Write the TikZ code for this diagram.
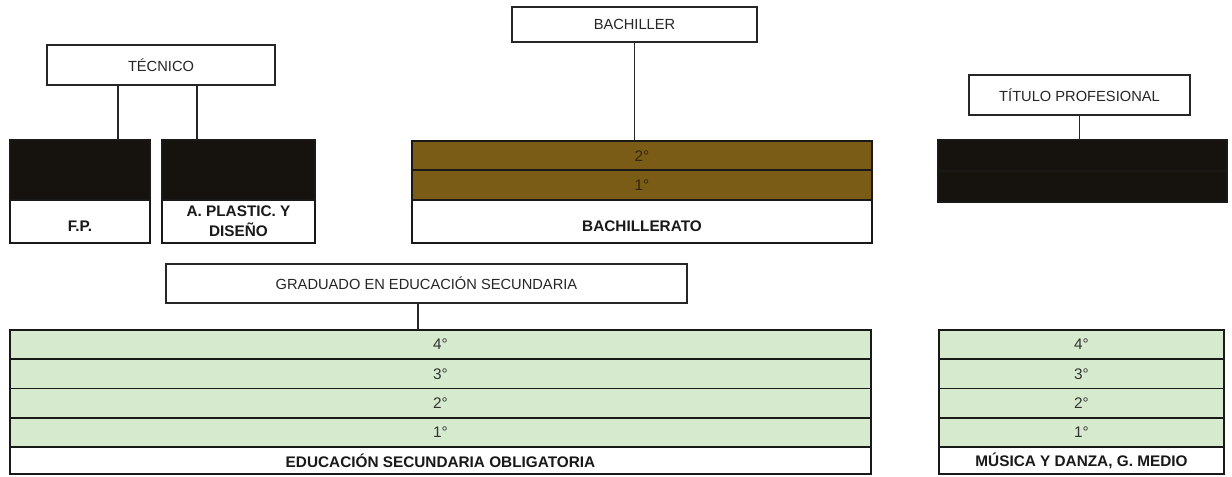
\documentclass[tikz,border=0pt]{standalone}
\usepackage{fontspec}
\setmainfont{Liberation Sans}
\usetikzlibrary{positioning}
\definecolor{esogreen}{RGB}{214,235,206}
\definecolor{bachbrown}{RGB}{122,92,22}
\definecolor{bachtext}{RGB}{52,38,10}
\definecolor{boxblack}{RGB}{22,19,14}

\begin{document}
\begin{tikzpicture}[x=.75pt,y=-.75pt,
    title/.style={draw=black!85, line width=.9pt, fill=white, inner sep=0pt,
      font=\fontsize{11}{13}\selectfont, text=black!85},
    band/.style={draw=black!90, line width=1.4pt, inner sep=0pt, outer sep=0pt,
      font=\fontsize{11.5}{13}\selectfont},
    greenband/.style={band, fill=esogreen, text=black!80, minimum height=21.94pt},
    brownband/.style={band, fill=bachbrown, text=bachtext, minimum height=22pt},
    darkband/.style={band, fill=boxblack},
    foot/.style={band, fill=white, align=center,
      font=\bfseries\fontsize{11.5}{15}\selectfont, text=black!90},
    conn/.style={draw=black!85, line width=1pt}]
  \useasboundingbox (0,0) rectangle (1232,476);

  % titulos
  \node (tec) at (161,65) [title, minimum width=171pt, minimum height=30pt] {TÉCNICO};
  \node (bachiller) at (634.5,24.5) [title, minimum width=183.75pt, minimum height=26.25pt] {BACHILLER};
  \node (titulo) at (1079.5,95) [title, minimum width=165.75pt, minimum height=30pt] {TÍTULO PROFESIONAL};
  \node (grad) at (426.5,283.5) [title, minimum width=390.75pt, minimum height=29.25pt] {GRADUADO EN EDUCACIÓN SECUNDARIA};

  % F.P. y artes plasticas
  \node (fpTop) at (10,140) [anchor=north west, darkband, minimum width=105pt, minimum height=45pt] {};
  \node (fpFoot) [below=0pt of fpTop, foot, minimum width=105pt, minimum height=32.25pt] {\mbox{}\\F.P.};
  \node (plTop) at (162,140) [anchor=north west, darkband, minimum width=114.75pt, minimum height=45pt] {};
  \node (plFoot) [below=0pt of plTop, foot, minimum width=114.75pt, minimum height=32.25pt] {A. PLASTIC. Y\\DISEÑO};

  % bachillerato
  \node (bach2) at (412,141) [anchor=north west, brownband, minimum width=345pt] {2°};
  \node (bach1) [below=0pt of bach2, brownband, minimum width=345pt] {1°};
  \node (bachFoot) [below=0pt of bach1, foot, minimum width=345pt, minimum height=32.5pt] {\mbox{}\\BACHILLERATO};

  % titulo profesional
  \node (tp2) at (938,140) [anchor=north west, darkband, minimum width=216.75pt, minimum height=23.25pt] {};
  \node (tp1) [below=0pt of tp2, darkband, minimum width=216.75pt, minimum height=23.25pt] {};

  % ESO
  \node (eso4) at (10,330) [anchor=north west, greenband, minimum width=645.75pt] {4°};
  \node (eso3) [below=0pt of eso4, greenband, minimum width=645.75pt] {3°};
  \node (eso2) [below=0pt of eso3, greenband, minimum width=645.75pt] {2°};
  \node (eso1) [below=0pt of eso2, greenband, minimum width=645.75pt] {1°};
  \node (esoFoot) [below=0pt of eso1, foot, minimum width=645.75pt, minimum height=20.25pt] {EDUCACIÓN SECUNDARIA OBLIGATORIA};

  % musica y danza
  \node (mus4) at (939,330) [anchor=north west, greenband, minimum width=213.75pt] {4°};
  \node (mus3) [below=0pt of mus4, greenband, minimum width=213.75pt] {3°};
  \node (mus2) [below=0pt of mus3, greenband, minimum width=213.75pt] {2°};
  \node (mus1) [below=0pt of mus2, greenband, minimum width=213.75pt] {1°};
  \node (musFoot) [below=0pt of mus1, foot, minimum width=213.75pt, minimum height=20.25pt] {MÚSICA Y DANZA, G. MEDIO};

  % conexiones
  \path ([xshift=-32.25pt]tec.south) coordinate (tecL)
        ([xshift=27pt]tec.south) coordinate (tecR)
        ([xshift=-6.4pt]grad.south) coordinate (gradC);
  \draw[conn] (tecL) -- (tecL |- fpTop.north);
  \draw[conn] (tecR) -- (tecR |- plTop.north);
  \draw[conn] (bachiller.south) -- (bachiller.south |- bach2.north);
  \draw[conn] (titulo.south) -- (titulo.south |- tp2.north);
  \draw[conn] (gradC) -- (gradC |- eso4.north);
\end{tikzpicture}
\end{document}
